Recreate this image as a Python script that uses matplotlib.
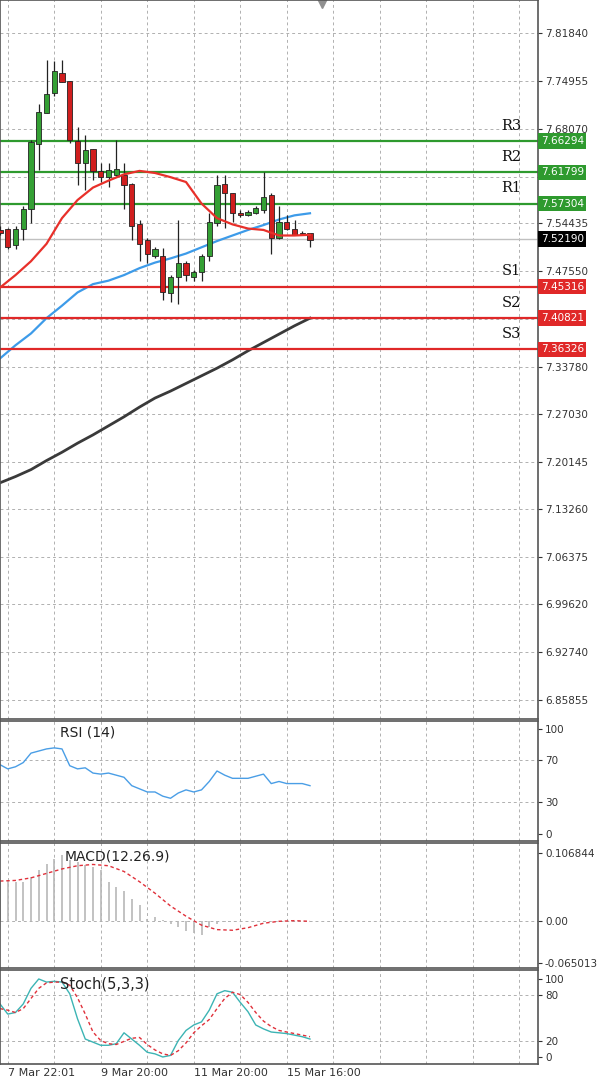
import numpy as np
import matplotlib
matplotlib.use("Agg")
import matplotlib.pyplot as plt
from matplotlib.transforms import blended_transform_factory

# ---------------------------------------------------------------------------
# Data (one candle per index)
# ---------------------------------------------------------------------------
OPEN = [7.535, 7.536, 7.513, 7.536, 7.565, 7.658, 7.703, 7.732, 7.761, 7.749,
        7.663, 7.632, 7.651, 7.620, 7.611, 7.614, 7.614, 7.601, 7.543, 7.521,
        7.498, 7.497, 7.444, 7.467, 7.488, 7.467, 7.474, 7.497, 7.545, 7.601,
        7.588, 7.560, 7.557, 7.560, 7.563, 7.585, 7.524, 7.547, 7.537, 7.530,
        7.530]
HIGH = [7.540, 7.538, 7.540, 7.570, 7.664, 7.717, 7.779, 7.778, 7.779, 7.749,
        7.683, 7.671, 7.652, 7.631, 7.631, 7.664, 7.631, 7.602, 7.549, 7.523,
        7.510, 7.509, 7.470, 7.549, 7.490, 7.477, 7.500, 7.560, 7.614, 7.614,
        7.588, 7.563, 7.563, 7.570, 7.618, 7.588, 7.570, 7.556, 7.549, 7.533,
        7.531]
LOW = [7.528, 7.507, 7.507, 7.520, 7.545, 7.622, 7.703, 7.728, 7.748, 7.660,
       7.600, 7.592, 7.607, 7.604, 7.597, 7.612, 7.565, 7.520, 7.491, 7.488,
       7.495, 7.434, 7.431, 7.429, 7.462, 7.461, 7.462, 7.490, 7.540, 7.538,
       7.546, 7.553, 7.555, 7.558, 7.560, 7.501, 7.522, 7.535, 7.527, 7.527,
       7.511]
CLOSE = [7.531, 7.510, 7.537, 7.565, 7.661, 7.705, 7.730, 7.764, 7.748, 7.664,
         7.632, 7.650, 7.620, 7.611, 7.621, 7.623, 7.599, 7.541, 7.515, 7.501,
         7.508, 7.445, 7.467, 7.488, 7.470, 7.475, 7.498, 7.546, 7.600, 7.588,
         7.559, 7.556, 7.561, 7.567, 7.583, 7.524, 7.547, 7.537, 7.528, 7.529,
         7.521]

# moving averages sampled at every second candle
MA_IDX = list(range(0, 41, 2))
MA_RED = [7.452, 7.470, 7.490, 7.515, 7.552, 7.578, 7.596, 7.606, 7.615, 7.620,
          7.617, 7.611, 7.604, 7.573, 7.552, 7.543, 7.537, 7.535, 7.527, 7.527,
          7.528]
MA_BLUE = [7.350, 7.369, 7.386, 7.408, 7.426, 7.445, 7.457, 7.462, 7.470, 7.480,
           7.488, 7.494, 7.501, 7.510, 7.519, 7.527, 7.535, 7.542, 7.550, 7.556,
           7.559]
MA_BLACK = [7.171, 7.180, 7.190, 7.203, 7.215, 7.228, 7.240, 7.253, 7.266, 7.280,
            7.293, 7.303, 7.314, 7.325, 7.336, 7.348, 7.361, 7.373, 7.385, 7.397,
            7.408]

LEVEL_NAMES = ["R3", "R2", "R1", "S1", "S2", "S3"]
LEVEL_VALUES = [7.66294, 7.61799, 7.57304, 7.45316, 7.40821, 7.36326]
LAST_PRICE = 7.52190

MAIN_TICKS = [7.81840, 7.74955, 7.68070, 7.54435, 7.47550, 7.33780, 7.27030,
              7.20145, 7.13260, 7.06375, 6.99620, 6.92740, 6.85855]
GRID_TICKS = [7.81840, 7.74955, 7.68070, 7.61185, 7.54435, 7.47550, 7.40665,
              7.33780, 7.27030, 7.20145, 7.13260, 7.06375, 6.99620, 6.92740,
              6.85855]

RSI = [66, 62, 64, 68, 77, 79, 81, 82, 81, 65, 62, 63, 58, 57, 58, 56, 54, 46,
       43, 40, 40, 36, 34, 39, 42, 40, 42, 50, 60, 56, 53, 53, 53, 55, 57, 48,
       50, 48, 48, 48, 46]

MACD_HIST = [0.063, 0.064, 0.0615, 0.0615, 0.069, 0.080, 0.089, 0.097, 0.104,
             0.096, 0.093, 0.088, 0.085, 0.080, 0.0615, 0.054, 0.048, 0.035,
             0.025, 0.004, 0.006, 0.002, -0.004, -0.009, -0.015, -0.019, -0.021,
             -0.009, -0.004, -0.0016, 0, 0, 0, 0, 0, 0, 0, 0, 0, 0, 0]
MACD_SIG = [0.063, 0.064, 0.068, 0.075, 0.082, 0.087, 0.089, 0.087, 0.078,
            0.062, 0.044, 0.024, 0.008, -0.006, -0.013, -0.014, -0.010, -0.003,
            0.000, 0.001, 0.000]

STOCH_K = [68, 55, 57, 68, 88, 100, 96, 97, 96, 81, 49, 23, 19, 15, 15, 17, 31,
           23, 15, 6, 4, 0, 2, 21, 34, 41, 45, 60, 81, 85, 83, 70, 58, 41, 36,
           32, 31, 30, 28, 26, 23]
STOCH_D = [62, 60, 57, 62, 75, 88, 95, 96, 96, 92, 76, 55, 32, 21, 17, 16, 20,
           24, 25, 16, 9, 4, 2, 8, 18, 31, 40, 48, 62, 75, 83, 80, 70, 57, 46,
           39, 34, 32, 30, 28, 26]

DATE_POS = [1, 13, 25, 37]
DATE_LABELS = ["7 Mar 22:01", "9 Mar 20:00", "11 Mar 20:00", "15 Mar 16:00"]
VGRID = list(range(1, 70, 6))

W, H = 600, 1089
PX = 7.75          # pixels per candle
XMAX = 538 / PX
GREEN, RED = "#2e9a2e", "#e02828"


def add_panel(fig, top, bottom):
    ax = fig.add_axes([0, 1 - bottom / H, 538 / W, (bottom - top) / H])
    ax.set_xlim(0, XMAX)
    ax.yaxis.tick_right()
    ax.tick_params(axis="y", length=3, labelsize=7.5, colors="#333333", pad=2)
    ax.tick_params(axis="x", length=0, labelbottom=False)
    for s in ax.spines.values():
        s.set_color("#555555")
        s.set_linewidth(1.2)
    for x in VGRID:
        ax.axvline(x, color="#b0b0b0", lw=0.7, ls=(0, (3, 3)), zorder=0)
    return ax


def main():
    fig = plt.figure(figsize=(W / 100, H / 100), dpi=100)
    fig.patch.set_facecolor("white")

    # --- main price panel ---
    ax = add_panel(fig, 0, 719)
    ax.set_ylim(6.831, 7.866)
    ax.set_yticks(MAIN_TICKS)
    ax.set_yticklabels([f"{t:.5f}" for t in MAIN_TICKS])
    for t in GRID_TICKS:
        ax.axhline(t, color="#b0b0b0", lw=0.7, ls=(0, (3, 3)), zorder=0)

    ax.plot(MA_IDX, MA_BLACK, color="#3a3a3a", lw=2.0, zorder=2)
    ax.plot(MA_IDX, MA_BLUE, color="#3d9be9", lw=1.6, zorder=2)
    ax.plot(MA_IDX, MA_RED, color="#e8302a", lw=1.6, zorder=4)

    for i, (o, h, l, c) in enumerate(zip(OPEN, HIGH, LOW, CLOSE)):
        col = "#34a034" if c >= o else "#d01e1e"
        ax.vlines(i, l, h, color="#222222", lw=0.9, zorder=3)
        ax.bar(i, max(abs(c - o), 0.0015), bottom=min(o, c), width=0.65,
               color=col, edgecolor="#222222", lw=0.6, zorder=3)

    trans = blended_transform_factory(ax.transAxes, ax.transData)
    for name, v in zip(LEVEL_NAMES, LEVEL_VALUES):
        col = GREEN if name.startswith("R") else RED
        ax.axhline(v, color=col, lw=1.6, zorder=2)
        ax.text(0.95, v + 0.012, name, transform=trans, fontsize=10.5,
                fontfamily="DejaVu Serif", color="#111111", ha="center",
                va="bottom")
        ax.text(1.005, v, f"{v:.5f}", transform=trans, fontsize=7.5,
                color="white", va="center", ha="left", clip_on=False,
                bbox=dict(boxstyle="square,pad=0.25", fc=col, ec="none"))
    ax.axhline(LAST_PRICE, color="#c0c0c0", lw=1.0, zorder=1)
    ax.text(1.005, LAST_PRICE, f"{LAST_PRICE:.5f}", transform=trans,
            fontsize=7.5, color="white", va="center", ha="left", clip_on=False,
            bbox=dict(boxstyle="square,pad=0.25", fc="black", ec="none"))
    ax.plot([41.5], [7.862], marker="v", color="#909090", ms=7,
            clip_on=False)

    # --- RSI ---
    ax_r = add_panel(fig, 721, 841)
    ax_r.set_ylim(-6.7, 107.6)
    ax_r.set_yticks([0, 30, 70, 100])
    for t in [30, 70]:
        ax_r.axhline(t, color="#b0b0b0", lw=0.7, ls=(0, (3, 3)), zorder=0)
    ax_r.plot(range(len(RSI)), RSI, color="#4a9ee6", lw=1.0)
    ax_r.text(7.8, 103, "RSI (14)", fontsize=10, color="#222222", va="top")

    # --- MACD ---
    ax_m = add_panel(fig, 843, 968)
    ax_m.set_ylim(-0.0731, 0.1226)
    ax_m.set_yticks([-0.065013, 0.0, 0.106844])
    ax_m.set_yticklabels(["-0.065013", "0.00", "0.106844"])
    ax_m.axhline(0, color="#b0b0b0", lw=0.7, ls=(0, (3, 3)), zorder=0)
    ax_m.vlines(range(len(MACD_HIST)), 0, MACD_HIST, color="#b8b8b8", lw=1.2)
    ax_m.plot(MA_IDX, MACD_SIG, color="#e0303a", lw=1.0, ls=(0, (2.5, 2)))
    ax_m.text(8.3, 0.113, "MACD(12.26.9)", fontsize=10, color="#222222",
              va="top")

    # --- Stochastic ---
    ax_s = add_panel(fig, 970, 1064)
    ax_s.set_ylim(-9, 111.5)
    ax_s.set_yticks([0, 20, 80, 100])
    for t in [20, 80]:
        ax_s.axhline(t, color="#b0b0b0", lw=0.7, ls=(0, (3, 3)), zorder=0)
    ax_s.plot(range(len(STOCH_K)), STOCH_K, color="#3cb4b4", lw=1.0)
    ax_s.plot(range(len(STOCH_D)), STOCH_D, color="#e0303a", lw=1.0,
              ls=(0, (2.5, 2)))
    ax_s.text(7.8, 103, "Stoch(5,3,3)", fontsize=10.5, color="#222222",
              va="top")
    for x, lbl in zip(DATE_POS, DATE_LABELS):
        ax_s.text(x, -14, lbl, fontsize=8, color="#333333", ha="left",
                  va="top", clip_on=False)

    fig.savefig("out.png", dpi=100)
    plt.close(fig)


if __name__ == "__main__":
    main()
